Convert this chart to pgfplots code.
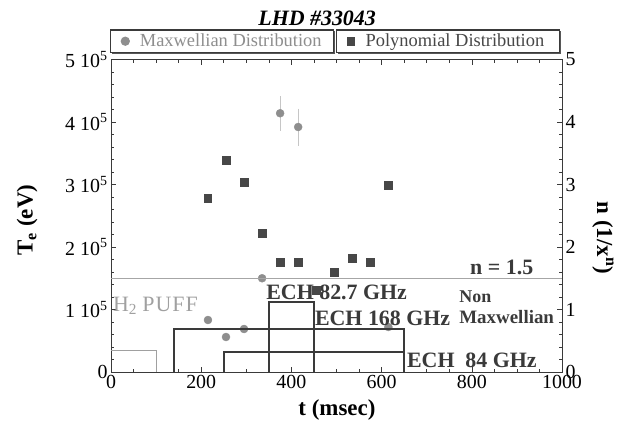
\documentclass[border=0pt]{standalone}
\usepackage{fontspec}
\setmainfont{Liberation Serif}
\usepackage{pgfplots}
\pgfplotsset{compat=1.18}
\usetikzlibrary{shadows}

\definecolor{maxw}{HTML}{8E8E8E}
\definecolor{poly}{HTML}{474747}
\definecolor{axc}{HTML}{3A3A3A}
\definecolor{puff}{HTML}{A0A0A0}

\begin{document}
\begin{tikzpicture}
\useasboundingbox (0,0) rectangle (628bp,428bp);
\pgfplotsset{
  common/.style={
    at={(111bp,56bp)}, anchor=south west,
    scale only axis, width=451bp, height=312.5bp,
    xmin=0, xmax=1000,
    axis line style={axc, line width=0.8bp},
    every tick/.style={axc, line width=0.6bp},
    tick align=inside,
    major tick length=5bp, minor tick length=3bp,
    tick label style={font=\fontsize{20}{22}\selectfont, text=black},
    label style={font=\bfseries\fontsize{23}{25}\selectfont},
    /pgf/number format/assume math mode=true,
    /pgf/number format/1000 sep={},
    legend cell align=left,
    legend image code/.code={\path (0bp,0bp) (24bp,0bp); \draw[##1] plot coordinates {(12bp,0bp)};},
  },
  legbox/.style={
    draw=axc, line width=1.2bp, fill=white,
    drop shadow={shadow xshift=1.3bp, shadow yshift=-1.3bp, fill=axc, opacity=0.85},
    font=\fontsize{18.5}{20}\selectfont,
    inner xsep=2bp, inner ysep=2bp},
}
% ---------- left axis: Maxwellian T_e ----------
\begin{axis}[common,
  ymin=0, ymax=500000,
  scaled y ticks=false,
  xtick={0,200,...,1000}, minor x tick num=3,
  xtick pos=both, xticklabel pos=bottom,
  ytick={0,100000,200000,300000,400000,500000}, minor y tick num=4,
  ytick pos=left,
  yticklabels={0, 1 10\textsuperscript{5}, 2 10\textsuperscript{5}, 3 10\textsuperscript{5}, 4 10\textsuperscript{5}, 5 10\textsuperscript{5}},
  xlabel={t (msec)},
  xlabel style={at={(axis description cs:0.501,-0.122)}, anchor=center},
  ylabel={T\textsubscript{e} (eV)},
  ylabel style={at={(axis description cs:-0.186,0.486)}, anchor=center},
  title={\bfseries\itshape LHD \#33043},
  title style={at={(axis description cs:0.457,1.112)}, anchor=center, font=\fontsize{22}{24}\selectfont},
  legend style={legbox, at={(axis description cs:-0.002,1.021)}, anchor=south west, text=maxw},
]
\addplot[only marks, mark=*, mark size=4bp, color=maxw,
  error bars/.cd, y dir=both, y explicit,
  error bar style={color=maxw!50, line width=0.5bp},
  error mark options={mark size=1bp, color=maxw!50}]
  coordinates {
  (215,83200) +- (0,0)
  (255,56000) +- (0,0)
  (295,68800) +- (0,0)
  (335,150000) +- (0,0)
  (375,414000) +- (0,26000)
  (415,392000) +- (0,28000)
  (615,72000) +- (0,0)
  };
\addlegendentry{\makebox[190bp][l]{Maxwellian Distribution}}
\end{axis}
% ---------- right axis: polynomial index n ----------
\begin{axis}[common,
  ymin=0, ymax=5,
  hide x axis,
  ytick={0,1,2,3,4,5}, minor y tick num=4,
  ytick pos=right, yticklabel pos=right,
  ylabel={n (1/x\textsuperscript{n})},
  ylabel style={at={(axis description cs:1.091,0.429)}, anchor=center, rotate=180},
  legend style={legbox, at={(axis description cs:0.996,1.021)}, anchor=south east, text=poly},
]
% n = 1.5 reference line
\addplot[color=gray!70, line width=0.6bp, forget plot] coordinates {(0,1.5) (1000,1.5)};
% H2 puff and ECH timing boxes
\addplot[color=puff, line width=0.9bp, forget plot] coordinates {(0,0.34) (100,0.34) (100,0)};
\addplot[color=axc, line width=1.5bp, forget plot] coordinates {(140,0) (140,0.69) (650,0.69) (650,0)};
\addplot[color=axc, line width=1.5bp, forget plot] coordinates {(250,0) (250,0.32) (650,0.32)};
\addplot[color=axc, line width=1.5bp, forget plot] coordinates {(350,0) (350,1.12) (450,1.12) (450,0)};
% polynomial index points
\addplot[only marks, mark=square*, mark size=3.7bp, color=poly]
  coordinates {
  (215,2.78) (255,3.39) (295,3.04) (335,2.22) (375,1.76) (415,1.76)
  (455,1.31) (495,1.60) (535,1.82) (575,1.76) (615,2.99)
  };
\addlegendentry{\makebox[190bp][l]{Polynomial Distribution}}
% annotations
\node[anchor=west, inner sep=0, font=\bfseries\fontsize{22}{24}\selectfont, text=axc] at (axis cs:344,1.28) {ECH 82.7 GHz};
\node[anchor=west, inner sep=0, font=\bfseries\fontsize{22}{24}\selectfont, text=axc] at (axis cs:452,0.86) {ECH 168 GHz};
\node[anchor=west, inner sep=0, font=\bfseries\fontsize{22}{24}\selectfont, text=axc] at (axis cs:656,0.19) {ECH\ \ 84 GHz};
\node[anchor=west, inner sep=0, font=\bfseries\fontsize{22}{24}\selectfont, text=axc] at (axis cs:796,1.68) {n = 1.5};
\node[anchor=west, inner sep=0, font=\bfseries\fontsize{18}{20}\selectfont, text=axc] at (axis cs:772,1.2) {Non};
\node[anchor=west, inner sep=0, font=\bfseries\fontsize{19}{21}\selectfont, text=axc] at (axis cs:772,0.88) {Maxwellian};
\node[anchor=west, inner sep=0, font=\fontsize{22}{24}\selectfont, text=puff] at (axis cs:4,1.06) {H\textsubscript{2} P\kern1bp U\kern1bp F\kern1bp F};
\end{axis}
\end{tikzpicture}
\end{document}
